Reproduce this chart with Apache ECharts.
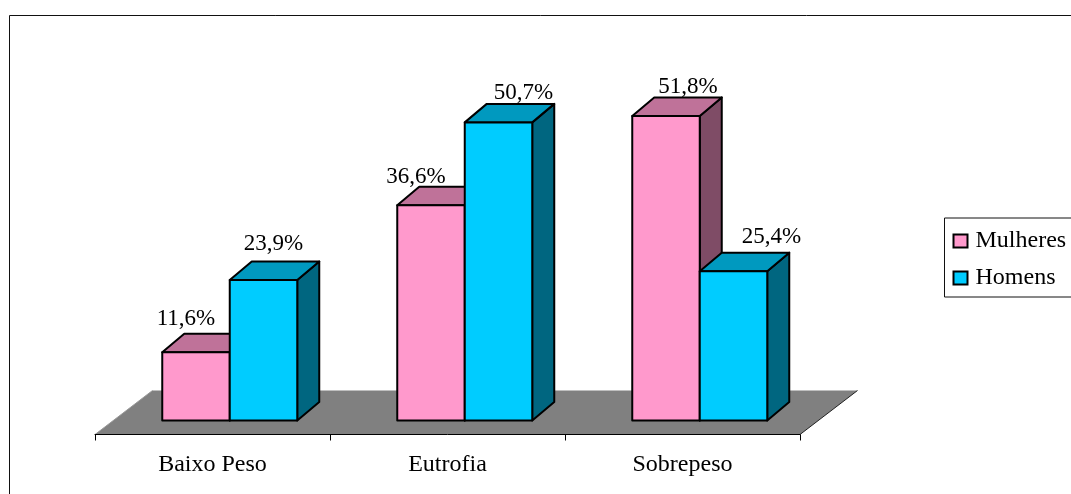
<!DOCTYPE html>
<html>
<head>
<meta charset="utf-8">
<style>html,body{margin:0;padding:0;background:#fff}#c{width:1071px;height:494px}</style>
<script src="https://cdn.jsdelivr.net/npm/echarts@6/dist/echarts.min.js"></script>
</head>
<body>
<div id="c"></div>
<script>
const categories = ['Baixo Peso', 'Eutrofia', 'Sobrepeso'];
const mulheres = [11.6, 36.6, 51.8];
const homens = [23.9, 50.7, 25.4];

const FONT = '"Liberation Serif","Times New Roman",serif';
const DX = 22, DY = -18.5, BAR_W = 67.5, SHIFT = 17.25;
// hand placement of each value label relative to its bar's front top centre
const mulheresLabelNudge = [[-10, -33], [-15, -28], [22, -29]];
const homensLabelNudge = [[10, -36], [25, -29], [38, -34]];
const fmt = v => v.toFixed(1).replace('.', ',') + '%';

function barRenderer(side, colors, nudges) {
  return function (params, api) {
    const idx = api.value(0), val = api.value(1);
    const top = api.coord([idx, val]);
    const base = api.coord([idx, 0]);
    const x0 = top[0] + SHIFT + (side < 0 ? -BAR_W : 0);
    const x1 = x0 + BAR_W, yt = top[1], yb = base[1];
    const line = { stroke: '#000', lineWidth: 2, lineJoin: 'round' };
    const n = nudges[idx];
    return {
      type: 'group',
      children: [
        { type: 'polygon', shape: { points: [[x1, yt], [x1 + DX, yt + DY], [x1 + DX, yb + DY], [x1, yb]] }, style: { fill: colors[2], ...line } },
        { type: 'polygon', shape: { points: [[x0, yt], [x0 + DX, yt + DY], [x1 + DX, yt + DY], [x1, yt]] }, style: { fill: colors[1], ...line } },
        { type: 'rect', shape: { x: x0, y: yt, width: BAR_W, height: yb - yt }, style: { fill: colors[0], ...line } },
        { type: 'text', x: (x0 + x1) / 2 + n[0], y: yt + n[1], style: { text: fmt(val), fill: '#000', font: '23px ' + FONT, align: 'center', verticalAlign: 'middle' } }
      ]
    };
  };
}

function floorRenderer(params) {
  const c = params.coordSys;
  const l = c.x, r = c.x + c.width, f = c.y + c.height, bx = 57.5, by = -44;
  return {
    type: 'group',
    children: [
      { type: 'polygon', shape: { points: [[l, f], [l + bx, f + by], [r + bx, f + by], [r, f]] }, style: { fill: '#808080', stroke: null } },
      { type: 'line', shape: { x1: r, y1: f, x2: r + bx, y2: f + by }, style: { stroke: '#222', lineWidth: 1 } },
      { type: 'line', shape: { x1: l, y1: f, x2: l + bx, y2: f + by }, style: { stroke: '#999', lineWidth: 1 } }
    ]
  };
}

const chart = echarts.init(document.getElementById('c'), null, { renderer: 'canvas' });
chart.setOption({
  animation: false,
  backgroundColor: '#fff',
  graphic: [{
    type: 'rect', z: -10, silent: true,
    shape: { x: 9.5, y: 15.5, width: 1200, height: 600 },
    style: { fill: null, stroke: '#111', lineWidth: 1 }
  }],
  grid: { left: 95, width: 705, top: 67.7, height: 366.8 },
  xAxis: {
    type: 'category', data: categories, z: 5,
    axisLine: { onZero: false, lineStyle: { color: '#000', width: 1 } },
    axisTick: { show: true, length: 6, lineStyle: { color: '#000' }, alignWithLabel: false },
    axisLabel: { color: '#000', fontFamily: FONT, fontSize: 24, margin: 18 },
    splitLine: { show: false }
  },
  yAxis: { type: 'value', min: -2.381, max: 60, show: false },
  legend: {
    left: 944.5, top: 218,
    orient: 'vertical', data: ['Mulheres', 'Homens'],
    icon: 'rect', itemWidth: 14, itemHeight: 13, itemGap: 13,
    padding: [11, 40, 7, 8],
    borderColor: '#111', borderWidth: 1,
    textStyle: { color: '#000', fontFamily: FONT, fontSize: 24, padding: [0, 0, 0, 3] },
    itemStyle: { borderColor: '#000', borderWidth: 2 }
  },
  series: [
    { type: 'custom', name: 'floor', silent: true, z: 1, coordinateSystem: 'cartesian2d', data: [[0, 0]], renderItem: floorRenderer, encode: { x: 0, y: 1 } },
    { type: 'custom', name: 'Mulheres', z: 2, coordinateSystem: 'cartesian2d', itemStyle: { color: '#FF99CC' },
      data: mulheres.map((v, i) => [i, v]), encode: { x: 0, y: 1 },
      renderItem: barRenderer(-1, ['#FF99CC', '#BF7299', '#7F4C66'], mulheresLabelNudge) },
    { type: 'custom', name: 'Homens', z: 3, coordinateSystem: 'cartesian2d', itemStyle: { color: '#00CCFF' },
      data: homens.map((v, i) => [i, v]), encode: { x: 0, y: 1 },
      renderItem: barRenderer(1, ['#00CCFF', '#0099BF', '#006680'], homensLabelNudge) }
  ]
});
</script>
</body>
</html>
